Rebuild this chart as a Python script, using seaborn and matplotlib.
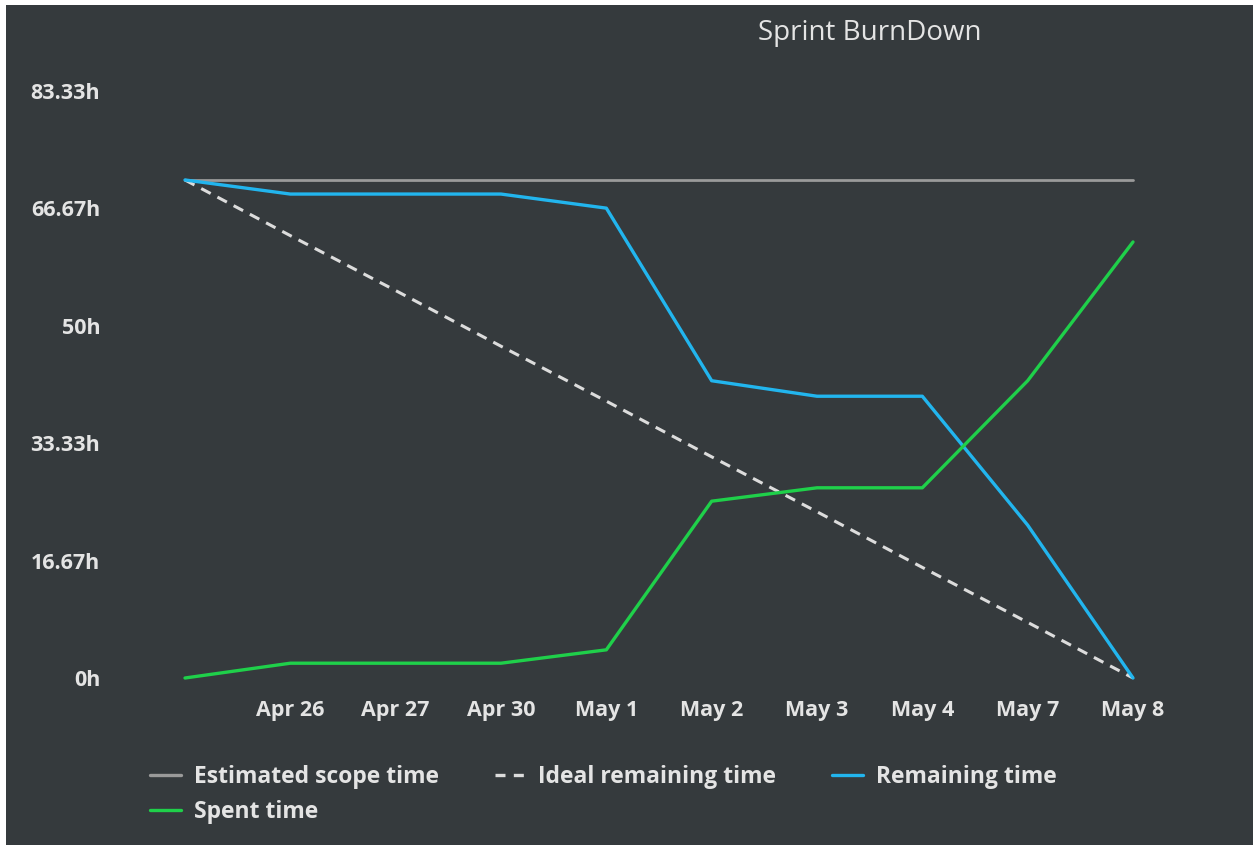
import matplotlib
matplotlib.use('Agg')
import matplotlib.pyplot as plt
import seaborn as sns
import numpy as np
from matplotlib.patches import Rectangle
from matplotlib.lines import Line2D

# Data (hours)
days = ["", "Apr 26", "Apr 27", "Apr 30", "May 1", "May 2", "May 3", "May 4", "May 7", "May 8"]
scope_time = [70.7, 70.7, 70.7, 70.7, 70.7, 70.7, 70.7, 70.7, 70.7, 70.7]
ideal_remaining = [70.7, 62.8, 55.0, 47.1, 39.3, 31.4, 23.6, 15.7, 7.9, 0.0]
remaining_time = [70.7, 68.7, 68.7, 68.7, 66.7, 42.2, 40.0, 40.0, 21.7, 0.0]
spent_time = [0.0, 2.1, 2.1, 2.1, 4.0, 25.1, 27.0, 27.0, 42.2, 61.9]
y_ticks = [0, 16.67, 33.33, 50, 66.67, 83.33]
y_labels = ["0h", "16.67h", "33.33h", "50h", "66.67h", "83.33h"]

BG = "#353a3d"
TXT = "#e4e4e4"

sns.set_theme(style="dark")
plt.rcParams['font.family'] = ['Open Sans', 'DejaVu Sans']

W, H = 1257, 850
fig = plt.figure(figsize=(W / 100, H / 100), dpi=100, facecolor="white")
fig.patches.append(Rectangle((6 / W, 5 / H), (1253 - 6) / W, (845 - 5) / H,
                             transform=fig.transFigure, facecolor=BG, edgecolor="none", zorder=-5))

# plot area: first point at x=185, last at x=1133; 0h at y=678, 83.33h at y=91
ax = fig.add_axes([185 / W, (H - 678) / H, (1133 - 185) / W, (678 - 91) / H])
ax.set_facecolor("none")
x = np.arange(len(days))

sns.lineplot(x=x, y=scope_time, ax=ax, color="#9a9a9a", linewidth=2.0, clip_on=False)
sns.lineplot(x=x, y=ideal_remaining, ax=ax, color="#dcdcdc", linewidth=2.2, clip_on=False)
ax.lines[-1].set_dashes((3.5, 2.5))
sns.lineplot(x=x, y=remaining_time, ax=ax, color="#22b5ee", linewidth=2.4, clip_on=False)
sns.lineplot(x=x, y=spent_time, ax=ax, color="#1fd04a", linewidth=2.4, clip_on=False)

ax.set_xlim(0, len(days) - 1)
ax.set_ylim(0, 83.33)
ax.set_xticks(x[1:])
ax.set_xticklabels(days[1:])
ax.set_yticks(y_ticks)
ax.set_yticklabels(y_labels)
ax.tick_params(axis='both', length=0, colors=TXT, labelsize=15.5)
ax.tick_params(axis='y', pad=61)
ax.tick_params(axis='x', pad=16)
for lab in ax.get_xticklabels() + ax.get_yticklabels():
    lab.set_fontweight('bold')
ax.grid(False)
for s in ax.spines.values():
    s.set_visible(False)

fig.text(870 / W, 1 - 33 / H, "Sprint BurnDown", ha="center", va="center",
         color=TXT, fontsize=20)

handles = [
    Line2D([], [], color="#9a9a9a", linewidth=2.4),
    Line2D([], [], color="#1fd04a", linewidth=2.4),
    Line2D([], [], color="#dcdcdc", linewidth=2.4, dashes=(3, 2.5)),
    Line2D([], [], color="#22b5ee", linewidth=2.4),
]
labels = ["Estimated scope time", "Spent time", "Ideal remaining time", "Remaining time"]
leg = fig.legend(handles, labels, loc="upper left", bbox_to_anchor=(150 / W, 1 - 765 / H),
                 ncol=3, frameon=False, handlelength=1.35, handletextpad=0.55,
                 columnspacing=2.45, labelspacing=0.5, borderaxespad=0, borderpad=0,
                 prop={'weight': 'bold', 'size': 16.5})
for t in leg.get_texts():
    t.set_color(TXT)

fig.savefig("out.png", dpi=100, facecolor="white")
